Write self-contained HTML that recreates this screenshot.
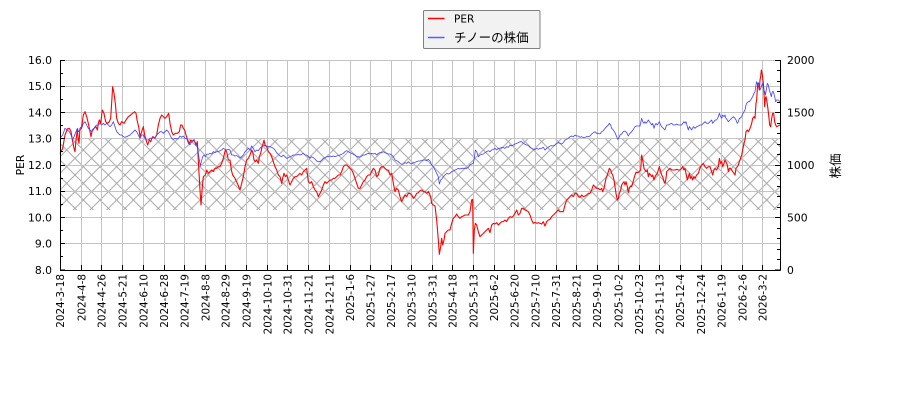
<!DOCTYPE html>
<html><head><meta charset="utf-8"><style>
html,body{margin:0;padding:0;background:#fff;}
svg{display:block;}
text{font-family:"DejaVu Sans","Liberation Sans","Noto Sans CJK JP",sans-serif;fill:#000;}
.rl{stroke:#ff0000;stroke-width:1.1;fill:none;stroke-linejoin:round;}
.bl{stroke:#4040ff;stroke-width:0.8;fill:none;stroke-linejoin:round;}
</style></head><body>
<svg width="900" height="400" viewBox="0 0 900 400" xmlns="http://www.w3.org/2000/svg">
<defs>
<pattern id="hx" patternUnits="userSpaceOnUse" x="0" y="0" width="16.6667" height="16.6667">
<path d="M0,0 L16.6667,16.6667 M0,16.6667 L16.6667,0" stroke="#a8a8a8" stroke-width="1" fill="none"/>
</pattern>
</defs>
<rect width="900" height="400" fill="#fff"/>
<!-- hatch -->
<rect x="60" y="138.75" width="720" height="71.25" fill="url(#hx)"/>
<!-- grid -->
<g stroke="#c4c4c4" stroke-width="1">
<path d="M60,60.5H780 M60,86.5H780 M60,112.5H780 M60,138.5H780 M60,165.5H780 M60,191.5H780 M60,217.5H780 M60,243.5H780"/>
<path d="M81.5,60V270 M101.5,60V270 M122.5,60V270 M143.5,60V270 M164.5,60V270 M184.5,60V270 M205.5,60V270 M225.5,60V270 M246.5,60V270 M267.5,60V270 M287.5,60V270 M308.5,60V270 M329.5,60V270 M350.5,60V270 M370.5,60V270 M391.5,60V270 M411.5,60V270 M432.5,60V270 M452.5,60V270 M473.5,60V270 M494.5,60V270 M514.5,60V270 M535.5,60V270 M556.5,60V270 M576.5,60V270 M597.5,60V270 M618.5,60V270 M639.5,60V270 M659.5,60V270 M680.5,60V270 M701.5,60V270 M721.5,60V270 M742.5,60V270 M762.5,60V270"/>
</g>
<!-- red PER -->
<g transform="translate(60,60) scale(0.333333)"><polyline class="rl" vector-effect="non-scaling-stroke" points="0,280 8,265 15,225 22,207 28,205 33,215 38,245 42,265 45,275 48,240 52,210 55,240 57,250 60,205 65,200 70,165 75,155 80,170 85,190 90,215 93,230 97,210 102,205 108,200 112,210 115,190 118,180 122,190 127,150 132,160 137,185 142,190 148,185 152,175 158,80 162,100 166,130 170,175 175,190 180,195 185,185 192,190 198,180 205,170 212,165 218,160 224,155 228,160 232,185 236,200 240,230 245,215 250,200 254,225 258,240 263,255 268,240 272,245 278,230 284,235 290,225 295,195 300,175 305,165 310,170 315,175 320,170 326,160 330,190 335,215 340,225 346,220 352,220 358,215 362,195 366,195 370,205 374,210 378,225 383,240 388,250 393,240 397,245 402,240 408,255 412,245 416,320 420,390 423,435 427,380 430,350 436,345 440,330 445,340 450,335 455,330 460,335 465,325 470,325 475,320 480,320 485,310 490,295 496,270 500,275 505,300 510,300 514,330 518,345 525,355 532,370 540,390"/></g>
<g transform="translate(240,60) scale(0.333333)"><polyline class="rl" vector-effect="non-scaling-stroke" points="0,390 5,370 10,350 15,320 20,300 25,295 30,285 35,270 38,275 42,300 46,305 50,300 55,310 58,290 62,280 65,265 68,255 72,240 75,255 80,260 85,275 90,280 95,290 100,305 105,320 110,330 115,345 120,350 125,370 128,355 132,340 136,350 140,345 145,360 150,375 155,365 160,355 165,350 170,350 175,345 180,340 185,345 190,335 195,330 200,325 205,365 210,370 215,365 220,380 225,390 230,395 235,410 240,400 245,390 250,375 255,365 260,370 265,365 270,360 275,360 280,355 285,355 290,350 295,345 300,345 305,335 310,320 315,315 320,315 325,320 330,325 335,330 340,340 345,355 350,370 355,385 360,385 365,375 370,365 375,360 380,350 385,345 390,345 395,335 400,325 405,330 410,350 415,345 420,325 425,320 430,320 435,325 440,330 445,330 450,345 455,340 460,370 465,395 470,385 475,390 480,410 485,425 490,415 495,405 500,410 505,400 510,400 515,405 520,415 525,410 530,400 535,398 540,392"/></g>
<g transform="translate(420,60) scale(0.333333)"><polyline class="rl" vector-effect="non-scaling-stroke" points="0,392 5,390 10,395 15,395 20,400 25,395 28,400 32,410 35,430 40,435 45,438 50,480 55,540 58,583 62,560 65,535 68,555 72,540 75,520 80,515 85,510 90,510 95,490 100,475 105,470 110,462 115,470 120,475 125,470 130,468 135,465 140,465 145,465 150,455 155,420 158,418 160,580 163,510 166,490 170,495 175,515 180,530 185,525 190,520 195,515 200,510 205,505 210,518 215,495 220,490 225,492 230,488 235,495 240,490 245,485 250,485 255,480 260,485 265,475 270,470 275,472 280,468 285,460 290,450 295,465 300,460 305,445 310,445 315,450 320,452 325,455 330,465 335,480 340,490 345,487 350,490 355,488 360,490 365,492 370,485 375,498 380,485 385,480 390,478 395,470 400,465 405,460 410,455 415,450 420,455 425,455 430,455 435,435 440,420 445,415 450,410 455,405 460,410 465,400 470,400 475,410 480,412 485,405 490,410 495,408 500,405 505,400 510,400 515,390 520,375 525,380 530,385 535,385 540,390"/></g>
<g transform="translate(600,60) scale(0.333333)"><polyline class="rl" vector-effect="non-scaling-stroke" points="0,390 5,385 8,395 12,385 15,370 18,355 22,345 25,335 28,325 32,330 35,340 38,345 42,360 45,380 48,400 52,420 55,415 58,400 62,390 65,375 68,370 72,365 75,375 78,365 82,380 85,398 88,385 92,378 95,380 98,370 102,355 105,345 108,337 112,338 115,337 118,335 122,330 125,285 128,300 132,325 135,330 138,335 142,330 145,350 148,340 152,345 155,350 158,345 162,360 165,350 168,345 172,340 175,330 178,320 182,335 185,345 188,350 192,365 195,370 198,355 200,335 205,330 210,325 215,330 220,330 225,330 230,328 235,330 240,330 245,325 248,320 252,330 255,325 258,340 262,360 265,350 268,340 272,355 275,350 278,360 282,350 285,355 290,345 295,340 298,330 302,320 305,315 310,310 315,320 320,325 325,320 330,320 335,335 338,345 342,330 345,325 350,330 355,320 358,295 362,310 365,305 368,320 372,310 375,300 378,305 382,315 385,335 388,325 392,325 395,330 398,335 402,340 405,345 408,325 412,320 415,315 418,305 420,300 425,285 428,270 432,250 435,240 438,215 442,210 445,215 448,210 452,200 455,190 458,175 462,170 465,175 468,130 470,120 473,70 476,80 478,90 480,60 482,50 484,30 487,45 490,70 492,100 494,140 496,115 498,110 500,120 503,140 506,165 509,195 512,200 515,175 518,160 521,160 524,185 527,195 530,200 535,197 540,195"/></g>
<!-- blue price -->
<g transform="translate(60,60) scale(0.333333)"><polyline class="bl" vector-effect="non-scaling-stroke" points="0,235 8,225 15,205 22,210 28,215 33,225 38,240 42,230 48,215 52,205 56,215 60,210 65,205 70,190 75,185 80,195 85,205 90,210 95,215 100,210 105,200 110,195 115,195 120,190 125,195 130,190 135,195 140,190 145,195 150,200 155,195 160,185 165,200 170,215 175,220 180,225 185,225 190,230 195,232 200,230 210,225 220,215 225,210 230,215 235,225 240,235 245,225 250,225 255,235 260,240 265,240 270,235 275,235 280,230 285,235 290,225 295,220 300,215 305,215 310,220 315,215 320,210 325,215 330,225 335,235 340,238 345,235 350,237 355,235 360,228 365,232 370,228 375,235 380,235 385,250 390,255 395,245 400,240 405,245 410,255 414,270 418,300 421,318 424,305 428,290 432,285 436,290 440,282 445,283 450,280 455,282 460,275 465,278 470,275 475,275 480,272 485,270 490,265 495,268 500,270 505,268 510,270 515,285 520,285 525,288 530,287 535,290 540,295"/></g>
<g transform="translate(240,60) scale(0.333333)"><polyline class="bl" vector-effect="non-scaling-stroke" points="0,295 5,290 10,285 15,275 20,270 25,265 30,270 35,258 40,265 45,275 50,270 55,272 60,265 65,260 70,255 75,258 80,258 85,260 90,260 95,262 100,265 105,270 110,278 115,283 120,288 125,290 130,285 135,290 140,295 145,293 150,290 155,288 160,285 165,285 170,285 175,283 180,285 185,283 190,280 195,285 200,285 205,290 210,295 215,290 220,293 225,297 230,303 235,305 240,305 245,300 250,295 255,293 260,290 265,290 270,288 275,290 280,288 285,290 290,288 295,287 300,285 305,283 310,280 315,275 320,272 325,275 330,278 335,280 340,283 345,285 350,290 355,290 360,292 365,288 370,285 375,285 380,282 385,280 390,282 395,280 400,282 405,280 410,285 415,280 420,278 425,278 430,275 435,278 440,280 445,282 450,282 455,285 460,290 465,300 470,302 475,305 480,310 485,313 490,312 495,308 500,310 505,305 510,310 515,312 520,308 525,307 530,305 535,303 540,303"/></g>
<g transform="translate(420,60) scale(0.333333)"><polyline class="bl" vector-effect="non-scaling-stroke" points="0,303 5,302 10,300 15,300 20,302 25,298 30,303 35,315 40,320 45,330 50,340 55,350 58,372 62,360 65,358 70,350 75,345 80,340 85,342 90,340 95,335 100,333 105,330 110,328 115,325 120,327 125,325 130,325 135,325 140,325 145,322 150,315 155,312 160,310 163,295 166,270 170,275 175,290 180,285 185,283 190,282 195,278 200,275 205,272 210,275 215,270 220,268 225,265 230,270 235,265 240,265 245,262 250,263 255,265 260,260 265,262 270,255 275,258 280,255 285,252 290,250 295,248 300,245 305,245 310,250 315,253 320,255 325,256 330,262 335,265 340,268 345,268 350,265 355,268 360,265 365,265 370,262 375,270 380,265 385,262 390,258 395,257 400,258 405,255 410,250 415,248 420,250 425,252 430,248 435,240 440,238 445,235 450,230 455,228 460,230 465,225 470,228 475,228 480,232 485,230 490,233 495,232 500,230 505,230 510,228 515,222 520,218 525,215 530,220 535,220 540,222"/></g>
<g transform="translate(600,60) scale(0.333333)"><polyline class="bl" vector-effect="non-scaling-stroke" points="0,222 5,215 10,212 15,205 20,200 25,195 28,190 32,195 35,205 40,210 45,218 50,230 53,238 56,235 60,225 65,222 70,215 75,213 80,218 85,228 88,222 92,218 95,215 100,208 105,200 110,198 115,198 120,198 125,175 128,185 132,190 135,185 138,190 142,185 145,180 148,185 152,190 155,195 158,190 162,205 165,195 168,190 172,195 175,190 178,185 182,195 185,200 190,205 195,210 198,200 200,195 205,195 210,192 215,190 220,195 225,195 230,192 235,195 240,195 245,195 248,190 252,185 255,190 258,185 262,200 265,210 268,200 272,205 275,210 280,200 285,205 290,200 295,198 300,195 305,195 310,190 315,185 320,190 325,190 330,185 335,180 338,190 342,185 345,180 350,180 355,170 358,160 362,170 365,175 368,165 372,170 375,165 378,175 382,180 385,185 390,180 395,175 400,170 405,175 408,180 412,190 415,185 418,175 420,175 425,170 428,162 432,155 435,150 438,135 440,130 445,125 448,125 452,120 455,115 458,110 462,100 465,95 468,75 470,65 473,75 476,68 478,75 480,90 484,80 487,70 490,85 494,95 496,105 499,90 502,70 505,75 508,90 511,100 514,110 517,95 520,95 524,110 527,125 530,120 535,120 540,125"/></g>
<!-- spines -->
<g stroke="#000" stroke-width="1" fill="none">
<path d="M60.5,60V270.5 M60,270.5H780.5 M780.5,60V270.5"/>
<!-- left ticks major -->
<path d="M60,60.5h5 M60,86.5h5 M60,112.5h5 M60,138.5h5 M60,165.5h5 M60,191.5h5 M60,217.5h5 M60,243.5h5 M60,270h5"/>
<!-- left minor -->
<path d="M60,73.5h3 M60,99.5h3 M60,125.5h3 M60,151.5h3 M60,178.5h3 M60,204.5h3 M60,230.5h3 M60,256.5h3"/>
<!-- right major -->
<path d="M780,60.5h-5 M780,112.5h-5 M780,165.5h-5 M780,217.5h-5 M780,270h-5"/>
<!-- right minor -->
<path d="M780,70.5h-3 M780,81.5h-3 M780,91.5h-3 M780,102.5h-3 M780,123.5h-3 M780,133.5h-3 M780,144.5h-3 M780,154.5h-3 M780,175.5h-3 M780,186.5h-3 M780,196.5h-3 M780,207.5h-3 M780,228.5h-3 M780,238.5h-3 M780,249.5h-3 M780,259.5h-3"/>
<!-- bottom ticks -->
<path d="M60.5,270v-5 M81.5,270v-5 M101.5,270v-5 M122.5,270v-5 M143.5,270v-5 M164.5,270v-5 M184.5,270v-5 M205.5,270v-5 M225.5,270v-5 M246.5,270v-5 M267.5,270v-5 M287.5,270v-5 M308.5,270v-5 M329.5,270v-5 M350.5,270v-5 M370.5,270v-5 M391.5,270v-5 M411.5,270v-5 M432.5,270v-5 M452.5,270v-5 M473.5,270v-5 M494.5,270v-5 M514.5,270v-5 M535.5,270v-5 M556.5,270v-5 M576.5,270v-5 M597.5,270v-5 M618.5,270v-5 M639.5,270v-5 M659.5,270v-5 M680.5,270v-5 M701.5,270v-5 M721.5,270v-5 M742.5,270v-5 M762.5,270v-5"/>
</g>
<!-- left labels -->
<g font-size="10.8" text-anchor="end">
<text x="52" y="64">16.0</text>
<text x="52" y="90.2">15.0</text>
<text x="52" y="116.5">14.0</text>
<text x="52" y="142.7">13.0</text>
<text x="52" y="169">12.0</text>
<text x="52" y="195.2">11.0</text>
<text x="52" y="221.5">10.0</text>
<text x="52" y="247.7">9.0</text>
<text x="52" y="274">8.0</text>
</g>
<!-- right labels -->
<g font-size="10.8" text-anchor="start">
<text x="787" y="64">2000</text>
<text x="787" y="116.5">1500</text>
<text x="787" y="169">1000</text>
<text x="787" y="221.5">500</text>
<text x="787" y="274">0</text>
</g>
<text transform="translate(24,165) rotate(-90)" font-size="10.8" text-anchor="middle">PER</text>
<text transform="translate(840,166) rotate(-90)" font-size="12.5" text-anchor="middle" style="font-family:'Noto Sans CJK JP',sans-serif">株価</text>
<!-- x labels -->
<g font-size="10.4" text-anchor="end">
<text transform="translate(64,274) rotate(-90)">2024-3-18</text>
<text transform="translate(85.5,274) rotate(-90)">2024-4-8</text>
<text transform="translate(105.5,274) rotate(-90)">2024-4-26</text>
<text transform="translate(126.5,274) rotate(-90)">2024-5-21</text>
<text transform="translate(147.3,274) rotate(-90)">2024-6-10</text>
<text transform="translate(168,274) rotate(-90)">2024-6-28</text>
<text transform="translate(188.5,274) rotate(-90)">2024-7-19</text>
<text transform="translate(209.3,274) rotate(-90)">2024-8-8</text>
<text transform="translate(229.5,274) rotate(-90)">2024-8-29</text>
<text transform="translate(250.5,274) rotate(-90)">2024-9-19</text>
<text transform="translate(271.3,274) rotate(-90)">2024-10-10</text>
<text transform="translate(291.5,274) rotate(-90)">2024-10-31</text>
<text transform="translate(312.3,274) rotate(-90)">2024-11-21</text>
<text transform="translate(333.3,274) rotate(-90)">2024-12-11</text>
<text transform="translate(354,274) rotate(-90)">2025-1-6</text>
<text transform="translate(374.3,274) rotate(-90)">2025-1-27</text>
<text transform="translate(395,274) rotate(-90)">2025-2-17</text>
<text transform="translate(415.5,274) rotate(-90)">2025-3-10</text>
<text transform="translate(436.5,274) rotate(-90)">2025-3-31</text>
<text transform="translate(456.3,274) rotate(-90)">2025-4-18</text>
<text transform="translate(477.3,274) rotate(-90)">2025-5-13</text>
<text transform="translate(498,274) rotate(-90)">2025-6-2</text>
<text transform="translate(518.5,274) rotate(-90)">2025-6-20</text>
<text transform="translate(539.3,274) rotate(-90)">2025-7-10</text>
<text transform="translate(560,274) rotate(-90)">2025-7-31</text>
<text transform="translate(580.5,274) rotate(-90)">2025-8-21</text>
<text transform="translate(601,274) rotate(-90)">2025-9-10</text>
<text transform="translate(622.3,274) rotate(-90)">2025-10-2</text>
<text transform="translate(643,274) rotate(-90)">2025-10-23</text>
<text transform="translate(663.3,274) rotate(-90)">2025-11-13</text>
<text transform="translate(684,274) rotate(-90)">2025-12-4</text>
<text transform="translate(705,274) rotate(-90)">2025-12-24</text>
<text transform="translate(725.5,274) rotate(-90)">2026-1-19</text>
<text transform="translate(746.3,274) rotate(-90)">2026-2-6</text>
<text transform="translate(766.5,274) rotate(-90)">2026-3-2</text>
</g>
<!-- legend -->
<rect x="423.5" y="10.5" width="116.5" height="38" fill="#f2f2f2" stroke="#808080" stroke-width="1" rx="1"/>
<line x1="428" y1="18.5" x2="444.5" y2="18.5" stroke="#ff0000" stroke-width="1.4"/>
<line x1="428" y1="37.5" x2="444.5" y2="37.5" stroke="#5c5cff" stroke-width="1.6"/>
<text x="454" y="22.3" font-size="10.5">PER</text>
<text x="454" y="41.8" font-size="12.5" style="font-family:'Noto Sans CJK JP',sans-serif">チノーの株価</text>
</svg>
</body></html>
